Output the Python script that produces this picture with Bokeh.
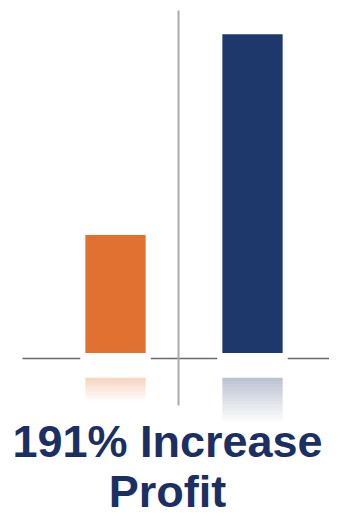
import numpy as np
from bokeh.plotting import figure
from bokeh.models import Range1d, Label
from bokeh.embed import file_html
from bokeh.resources import INLINE

# ---- data ----
categories = ["Before", "After"]
profit = [1.0, 2.7]
bar_colors = ["#e07130", "#1f386c"]
title_lines = ["191% Increase", "Profit"]

# ---- layout / style ----
W, H = 329, 516
xpos = np.arange(1, len(categories) + 1)
bar_w = 0.44

p = figure(width=W, height=H, output_backend="svg", toolbar_location=None,
           x_range=Range1d(0.1606, 2.562), y_range=Range1d(-1.386, 2.987),
           min_border=0, outline_line_color=None, background_fill_color="white",
           border_fill_color="white")
p.axis.visible = False
p.grid.visible = False

# crosshair lines
p.segment(x0=[0.321], y0=[-0.047], x1=[2.591], y1=[-0.047], line_color="#6a6a6a", line_width=1.6)
p.segment(x0=[1.46], y0=[2.902], x1=[1.46], y1=[-0.445], line_color="#aaaaaa", line_width=2)

# white gaps around bars on the baseline
pad = 0.037
p.quad(left=xpos - bar_w / 2 - pad, right=xpos + bar_w / 2 + pad,
       top=[0] * len(xpos), bottom=[-0.09] * len(xpos), fill_color="white", line_color=None)

# bars
p.vbar(x=xpos, top=profit, bottom=0, width=bar_w, fill_color=bar_colors, line_color=None)

# reflections (fading)
n = 14
for xi, v, c in zip(xpos, profit, bar_colors):
    start = -0.21
    depth = 0.1 + 0.11 * v
    edges = np.linspace(start, start - depth, n + 1)
    alphas = np.linspace(0.3, 0.0, n)
    p.quad(left=[xi - bar_w / 2] * n, right=[xi + bar_w / 2] * n,
           top=edges[:-1], bottom=edges[1:], fill_color=c, fill_alpha=alphas, line_color=None)

font = "'Liberation Sans', Arial, sans-serif"
for txt, yb in zip(title_lines, [75, 25]):
    p.add_layout(Label(x=167, y=yb, x_units="screen", y_units="screen", text=txt,
                       text_align="center", text_baseline="alphabetic",
                       text_font=font, text_font_style="bold", text_font_size="45px",
                       text_color="#1b2f63"))

open("out.html", "w").write(file_html(p, INLINE))
